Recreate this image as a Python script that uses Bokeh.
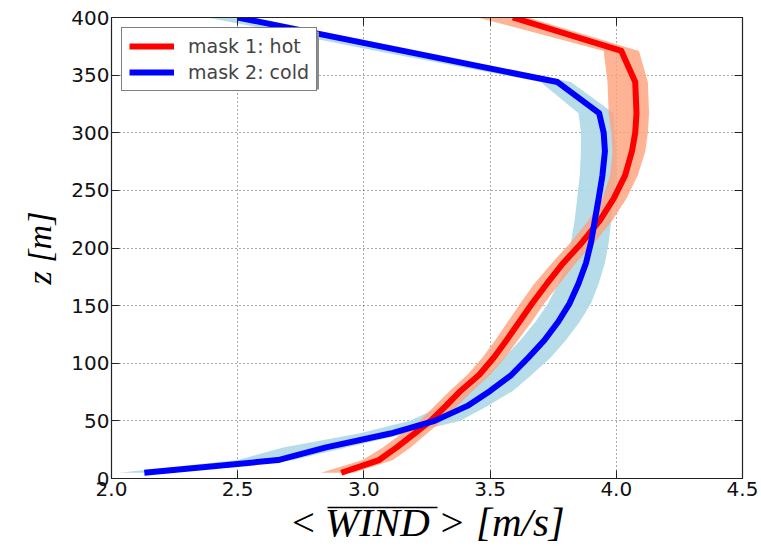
from bokeh.plotting import figure
from bokeh.models import (Range1d, FixedTicker, LinearAxis, Legend, LegendItem,
                          PrintfTickFormatter, BoxAnnotation)
from bokeh.embed import file_html
from bokeh.resources import INLINE

# heights [m]
z_levels = [5, 16, 27, 39, 50, 63, 76, 90, 105, 120, 136, 152, 169, 187, 205, 224,
            243, 263, 284, 300, 317, 344, 371, 400]

# mask 1: hot
hot_mean = [2.91, 3.06, 3.13, 3.20, 3.264, 3.325, 3.383, 3.457, 3.515, 3.565, 3.616, 3.667,
            3.725, 3.79, 3.865, 3.935, 3.99, 4.035, 4.062, 4.075, 4.08, 4.075, 4.02, 3.59]
hot_low = [2.83, 2.995, 3.075, 3.15, 3.22, 3.28, 3.34, 3.41, 3.47, 3.52, 3.57, 3.62,
           3.675, 3.745, 3.82, 3.89, 3.945, 3.975, 3.985, 3.98, 3.97, 3.965, 3.95, 3.45]
hot_high = [2.96, 3.115, 3.185, 3.25, 3.31, 3.37, 3.43, 3.50, 3.56, 3.61, 3.665, 3.715,
            3.775, 3.84, 3.915, 3.985, 4.04, 4.085, 4.115, 4.125, 4.13, 4.125, 4.09, 3.65]

# mask 2: cold
cold_mean = [2.13, 2.66, 2.85, 3.105, 3.28, 3.41, 3.50, 3.585, 3.652, 3.715, 3.77, 3.815,
             3.85, 3.88, 3.90, 3.915, 3.93, 3.945, 3.955, 3.95, 3.932, 3.767, 3.155, 2.50]
cold_low = [2.03, 2.50, 2.68, 2.98, 3.18, 3.31, 3.41, 3.49, 3.555, 3.62, 3.68, 3.73,
            3.77, 3.80, 3.82, 3.835, 3.845, 3.855, 3.86, 3.86, 3.85, 3.70, 3.05, 2.38]
cold_high = [2.20, 2.72, 2.93, 3.17, 3.38, 3.49, 3.59, 3.665, 3.74, 3.80, 3.855, 3.90,
             3.93, 3.955, 3.97, 3.98, 3.99, 4.0, 4.0, 3.995, 3.99, 3.82, 3.22, 2.56]

x_ticks = [2.0, 2.5, 3.0, 3.5, 4.0, 4.5]
z_ticks = [0, 50, 100, 150, 200, 250, 300, 350, 400]

labels = ["mask 1: hot", "mask 2: cold"]
x_label = "<\u2009WIND\u2009> [m/s]"
y_label = "z [m]"

p = figure(width=761, height=552, x_range=Range1d(2.0, 4.5), y_range=Range1d(0, 400),
           output_backend="svg", toolbar_location=None,
           min_border_left=111, min_border_right=19, min_border_top=17, min_border_bottom=74,
           background_fill_color="white", border_fill_color="white")

p.outline_line_color = "#222222"
p.outline_line_width = 1.2

# bands
p.harea(x1=cold_low, x2=cold_high, y=z_levels, fill_color="#ADD8E6", fill_alpha=0.9)
p.harea(x1=hot_low, x2=hot_high, y=z_levels, fill_color="#FFA07A", fill_alpha=0.8)

r_hot = p.line(hot_mean, z_levels, line_color="#FF0000", line_width=6, line_join="round")
r_cold = p.line(cold_mean, z_levels, line_color="#0000FF", line_width=6, line_join="round")

# axes
for ax in (p.xaxis[0], p.yaxis[0]):
    ax.major_tick_in = 8
    ax.major_tick_out = 0
    ax.minor_tick_line_color = None
    ax.axis_line_color = "#222222"
    ax.major_tick_line_color = "#222222"
    ax.major_label_text_font = "DejaVu Sans"
    ax.major_label_text_font_size = "20px"
    ax.major_label_text_color = "#111111"
    ax.axis_label_text_font = "Liberation Serif"
    ax.axis_label_text_font_style = "italic"
    ax.axis_label_text_color = "#000000"

p.xaxis[0].ticker = FixedTicker(ticks=x_ticks)
p.xaxis[0].formatter = PrintfTickFormatter(format="%.1f")
p.yaxis[0].ticker = FixedTicker(ticks=z_ticks)
p.xaxis[0].major_label_standoff = 3
p.yaxis[0].major_label_standoff = 2
p.yaxis[0].axis_label = y_label
p.yaxis[0].axis_label_text_font_size = "34px"
p.yaxis[0].axis_label_standoff = 10

# invisible spacer axis (one hidden tick, no line) to push the label axis down
spacer_axis = LinearAxis(ticker=FixedTicker(ticks=[x_ticks[2]]), axis_line_color=None,
                         major_tick_in=0, major_tick_out=9, major_tick_line_color=None,
                         minor_tick_line_color=None, major_label_text_color=None,
                         major_label_text_font_size="1px", major_label_standoff=0)
p.add_layout(spacer_axis, "below")

# x label carried by a further bottom axis whose short axis line is the overline over WIND
label_axis = LinearAxis(ticker=FixedTicker(ticks=[]), bounds=(2.855, 3.292),
                        axis_line_color="#000000", axis_line_width=1.5,
                        major_tick_line_color=None, minor_tick_line_color=None,
                        major_label_text_color=None,
                        axis_label=x_label, axis_label_standoff=-9,
                        axis_label_text_font="Liberation Serif",
                        axis_label_text_font_style="italic",
                        axis_label_text_font_size="41px",
                        axis_label_text_color="#000000")
p.add_layout(label_axis, "below")

# mirrored ticks on top and right
right_ax = LinearAxis(ticker=FixedTicker(ticks=z_ticks), major_tick_in=8, major_tick_out=0,
                      minor_tick_line_color=None, axis_line_color="#222222",
                      major_tick_line_color="#222222", major_label_text_color=None)
top_ax = LinearAxis(ticker=FixedTicker(ticks=x_ticks), major_tick_in=8, major_tick_out=0,
                    minor_tick_line_color=None, axis_line_color="#222222",
                    major_tick_line_color="#222222", major_label_text_color=None)
p.add_layout(right_ax, "right")
p.add_layout(top_ax, "above")

# grid
for g in (p.xgrid[0], p.ygrid[0]):
    g.grid_line_color = "#555555"
    g.grid_line_dash = "1 3"
    g.grid_line_width = 1
p.xgrid[0].ticker = FixedTicker(ticks=x_ticks)
p.ygrid[0].ticker = FixedTicker(ticks=z_ticks)

# legend shadow (screen units, relative to the frame)
shadow = BoxAnnotation(left=14.5, right=207.5, top=447, bottom=389,
                       left_units="screen", right_units="screen",
                       top_units="screen", bottom_units="screen",
                       fill_color="#8c8c8c", fill_alpha=1.0, line_color=None)
p.add_layout(shadow)

legend = Legend(items=[LegendItem(label=labels[0], renderers=[r_hot]),
                       LegendItem(label=labels[1], renderers=[r_cold])],
                location="top_left", margin=10, padding=7, spacing=4,
                glyph_width=45, glyph_height=20, label_height=20, label_standoff=14,
                label_text_font="DejaVu Sans", label_text_font_size="19px",
                border_line_color="#000000", border_line_width=1,
                background_fill_color="white", background_fill_alpha=1.0)
p.add_layout(legend, "center")

open("out.html", "w").write(file_html(p, INLINE))
